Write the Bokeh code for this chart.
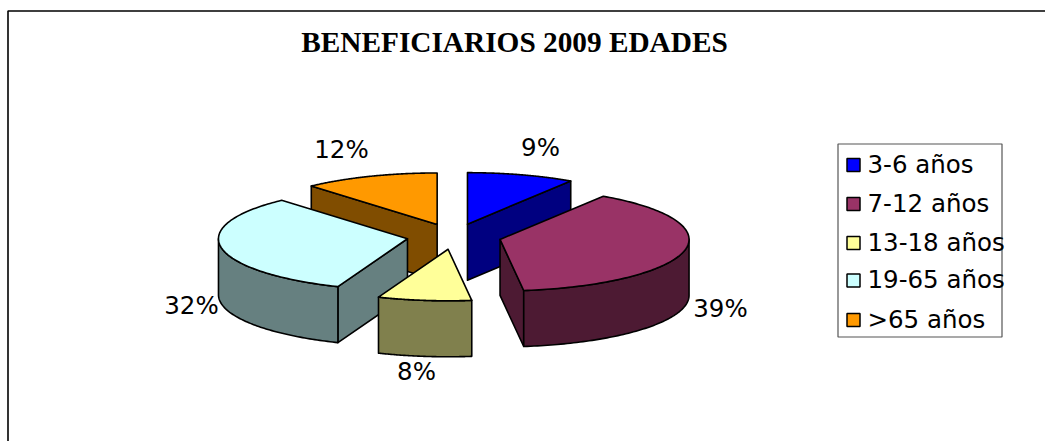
import numpy as np
from bokeh.plotting import figure
from bokeh.embed import file_html
from bokeh.resources import INLINE
from bokeh.core.properties import value

# --- data ---
categories = ["3-6 años", "7-12 años", "13-18 años", "19-65 años", ">65 años"]
shares = [9.2, 38.8, 8.0, 32.4, 11.6]
top_colors = ["#0000FF", "#993366", "#FFFF99", "#CCFFFF", "#FF9900"]
side_colors = ["#000080", "#4D1A33", "#80804D", "#668080", "#804D00"]
title_text = "BENEFICIARIOS 2009 EDADES"

# --- layout (page pixels) ---
W, H = 1045, 441
CX, CY, RX, RY, DEPTH, EXPLODE = 453.5, 236.0, 189.0, 51.5, 56.0, 0.25
LABEL_POS = [(540, 147), (720, 308), (416, 371), (191, 305), (341, 149)]
LEG_BOX = (837.5, 143.5, 1001.5, 336.5)
LEG_Y = [164.5, 203.5, 242.5, 280, 319.5]
LABEL_FONT = 24.5

p = figure(width=W, height=H, x_range=(0, W), y_range=(H, 0), output_backend="svg",
           toolbar_location=None, min_border=0, outline_line_color=None, background_fill_color="white")
p.axis.visible = False
p.grid.visible = False

# frame
p.line([7.5, 7.5, W], [H, 10.5, 10.5], line_color="#000000", line_width=1.6)

total = sum(shares)
edges = np.concatenate([[0], np.cumsum(shares)]) / total * 2 * np.pi
order = sorted(range(len(shares)), key=lambda i: -np.cos((edges[i] + edges[i + 1]) / 2))


def pt(ax, ay, t):
    return ax + RX * np.sin(t), ay - RY * np.cos(t)


for i in order:
    a, b = edges[i], edges[i + 1]
    mid = (a + b) / 2
    ax = CX + EXPLODE * RX * np.sin(mid)
    ay = CY - EXPLODE * RY * np.cos(mid)
    kw = dict(line_color="black", line_width=1.6, line_join="round")
    # radial faces
    for t, visible in ((a, np.sin(a) < -1e-6), (b, np.sin(b) > 1e-6)):
        if visible:
            ex, ey = pt(ax, ay, t)
            p.patch([ax, ex, ex, ax], [ay, ey, ey + DEPTH, ay + DEPTH], fill_color=side_colors[i], **kw)
    # outer curved face
    lo, hi = max(a, np.pi / 2), min(b, 3 * np.pi / 2)
    if hi > lo:
        ts = np.linspace(lo, hi, 80)
        xs, ys = pt(ax, ay, ts)
        p.patch(np.r_[xs, xs[::-1]], np.r_[ys, ys[::-1] + DEPTH], fill_color=side_colors[i], **kw)
    # top
    ts = np.linspace(a, b, 120)
    xs, ys = pt(ax, ay, ts)
    p.patch(np.r_[ax, xs], np.r_[ay, ys], fill_color=top_colors[i], **kw)

# percentage labels
p.text([q[0] for q in LABEL_POS], [q[1] for q in LABEL_POS],
       text=[f"{round(s / total * 100)}%" for s in shares],
       text_font=value("DejaVu Sans"), text_font_size=f"{LABEL_FONT}px", text_color="black",
       text_align="center", text_baseline="middle")

# title
p.text([514], [41], text=[title_text], text_font=value("Liberation Serif"), text_font_style="bold",
       text_font_size="29.3px", text_color="black", text_align="center", text_baseline="middle")

# legend
x0, y0, x1, y1 = LEG_BOX
p.quad(left=[x0], right=[x1], top=[y0], bottom=[y1], fill_color="white", line_color="#555555", line_width=1.2)
p.rect([853] * 5, LEG_Y, width=13, height=13, fill_color=top_colors, line_color="black", line_width=1.5)
p.text([867] * 5, [y - 1 for y in LEG_Y], text=categories, text_font=value("DejaVu Sans"),
       text_font_size=f"{LABEL_FONT}px", text_color="black", text_align="left", text_baseline="middle")

open("out.html", "w").write(file_html(p, INLINE))
